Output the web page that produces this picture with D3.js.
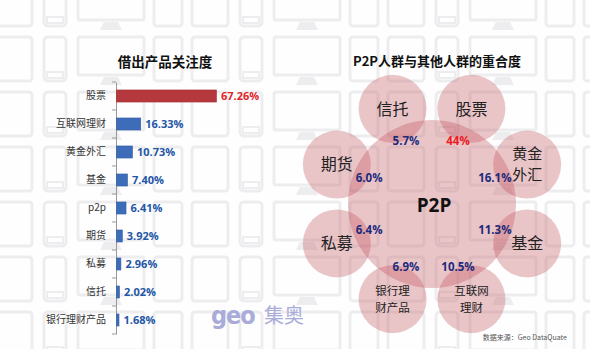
<!DOCTYPE html>
<html><head><meta charset="utf-8">
<script src="https://cdn.jsdelivr.net/npm/d3@7"></script>
<style>
html,body{margin:0;padding:0;background:#fff;}
svg{display:block;font-family:"Noto Sans CJK SC","Noto Sans",sans-serif;}
</style></head>
<body>
<svg id="c" width="590" height="349"></svg>
<script>
// ---- data ----
const barCategories = ["股票","互联网理财","黄金外汇","基金","p2p","期货","私募","信托","银行理财产品"];
const barValues = [67.26,16.33,10.73,7.40,6.41,3.92,2.96,2.02,1.68];
const barLabels = ["67.26%","16.33%","10.73%","7.40%","6.41%","3.92%","2.96%","2.02%","1.68%"];
const circleNames = ["信托","股票","黄金外汇","基金","互联网理财","银行理财产品","私募","期货"];
const circleLines = [["信托"],["股票"],["黄金","外汇"],["基金"],["互联网","理财"],["银行理","财产品"],["私募"],["期货"]];
const overlapValues = [5.7,44,16.1,11.3,10.5,6.9,6.4,6.0];
const overlapLabels = ["5.7%","44%","16.1%","11.3%","10.5%","6.9%","6.4%","6.0%"];
const leftTitle = "借出产品关注度";
const rightTitle = "P2P人群与其他人群的重合度";
const centerName = "P2P";
const sourceText = "数据来源：Geo  DataQuate";

const svg = d3.select("#c");

// ---- background pattern of device outlines ----
const defs = svg.append("defs");
const pat = defs.append("pattern").attr("id","bgp").attr("patternUnits","userSpaceOnUse")
  .attr("x",-8).attr("y",-22).attr("width",196).attr("height",55);
const bgc = "#ededf0";
const ps = pat.append("g").attr("fill","none").attr("stroke",bgc).attr("stroke-width",3);
ps.append("rect").attr("x",4).attr("y",4).attr("width",36).attr("height",44).attr("rx",3);
ps.append("rect").attr("x",52).attr("y",4).attr("width",22).attr("height",44).attr("rx",4);
ps.append("rect").attr("x",55).attr("y",39).attr("width",16).attr("height",6).attr("stroke-width",2);
ps.append("rect").attr("x",86).attr("y",4).attr("width",66).attr("height",38).attr("rx",2);
ps.append("path").attr("d","M112,44 L126,44 L130,52 L108,52 Z").attr("fill",bgc).attr("stroke","none");
ps.append("rect").attr("x",162).attr("y",4).attr("width",28).attr("height",44).attr("rx",3);
svg.append("rect").attr("width",590).attr("height",349).attr("fill","#fefefe");
svg.append("rect").attr("width",590).attr("height",349).attr("fill","url(#bgp)");

// ---- left: bar chart ----
const x = d3.scaleLinear().domain([0,70]).range([116,220]);
const y = d3.scaleBand().domain(barCategories).range([82,334]).paddingInner(0.57).paddingOuter(0.285);

svg.append("text").attr("x",165).attr("y",67).attr("text-anchor","middle")
  .attr("font-size",13.5).attr("font-weight","bold").attr("fill","#111").text(leftTitle);

const yAxis = svg.append("g").attr("transform","translate(116,0)")
  .call(d3.axisLeft(y).tickSize(0).tickPadding(10));
yAxis.select(".domain").attr("stroke","#999");
yAxis.selectAll("text").attr("font-size",10).attr("fill","#333")
  .attr("font-family",'"Noto Sans CJK SC","Noto Sans",sans-serif');
const step = y.step();
const bounds = barCategories.map(c => y(c) - (step - y.bandwidth())/2).concat([y(barCategories[barCategories.length-1]) + y.bandwidth() + (step - y.bandwidth())/2]);
svg.append("g").selectAll("line").data(bounds).join("line")
  .attr("x1",112).attr("x2",116).attr("y1",d=>d).attr("y2",d=>d).attr("stroke","#999");

svg.append("g").selectAll("rect").data(barCategories).join("rect")
  .attr("x",x(0)+0.5).attr("y",c=>y(c)).attr("height",y.bandwidth())
  .attr("width",(c,i)=>x(barValues[i])-x(0))
  .attr("fill",(c,i)=> i===0 ? "#b5383d" : "#3d6cb9")
  .attr("stroke",(c,i)=> i===0 ? "#a02f33" : "#335ea6").attr("stroke-width",0.6);

svg.append("g").selectAll("text").data(barCategories).join("text")
  .attr("x",(c,i)=>x(barValues[i])+5).attr("y",c=>y(c)+y.bandwidth()/2)
  .attr("dy","0.36em").attr("font-size",11).attr("font-weight","bold")
  .attr("font-family","'Open Sans','Noto Sans',sans-serif")
  .attr("fill",(c,i)=> i===0 ? "#e2242a" : "#2456a6")
  .text((c,i)=>barLabels[i]);

// ---- watermark ----
svg.append("text").attr("x",211).attr("y",324).attr("font-size",25).attr("font-weight","bold")
  .attr("font-family","'DejaVu Sans Condensed','DejaVu Sans',sans-serif")
  .attr("fill","#a9acd9").attr("letter-spacing",-1).text("geo");
svg.append("text").attr("x",264).attr("y",323).attr("font-size",20)
  .attr("fill","#a9acd9").text("集奥");

// ---- right: overlap circles ----
const cx = 432, cy = 204, R = 103, rOuter = 34, rCenter = 84, rLabel = 68;
const ang = d3.scaleLinear().domain([0, circleNames.length]).range([-112.5, 247.5]);
const pos = (i, rad) => {
  const a = ang(i) * Math.PI / 180;
  return [cx + rad*Math.cos(a), cy + rad*Math.sin(a)];
};

svg.append("text").attr("x",437).attr("y",66).attr("text-anchor","middle")
  .attr("font-size",13).attr("font-weight","bold").attr("fill","#111").text(rightTitle);

const circG = svg.append("g").attr("fill","#c04852").attr("fill-opacity",0.31);
circG.append("circle").attr("cx",cx).attr("cy",cy).attr("r",rCenter);
circG.selectAll("circle.o").data(circleNames).join("circle").attr("class","o")
  .attr("cx",(d,i)=>pos(i,R)[0]).attr("cy",(d,i)=>pos(i,R)[1]).attr("r",rOuter);

svg.append("text").attr("x",cx+2).attr("y",cy+1).attr("dy","0.36em").attr("text-anchor","middle")
  .attr("font-size",19).attr("font-weight","bold")
  .attr("font-family","'Open Sans','Noto Sans',sans-serif").attr("fill","#111").text(centerName);

// circle names, one text element per line
const nameRows = [];
circleLines.forEach((lines,i)=>{
  const [px,py] = pos(i,R);
  const small = lines.length>1 && lines[0].length>2;
  const fs = lines.length>1 ? (small ? 11.5 : 15) : 16;
  const lh = lines.length>1 ? (small ? 17 : 21) : 0;
  lines.forEach((l,k)=> nameRows.push({t:l, x:px, y:py + (k-(lines.length-1)/2)*lh, fs}));
});
svg.append("g").selectAll("text").data(nameRows).join("text")
  .attr("x",d=>d.x).attr("y",d=>d.y).attr("dy","0.36em").attr("text-anchor","middle")
  .attr("font-size",d=>d.fs).attr("fill","#222").text(d=>d.t);

svg.append("g").selectAll("text").data(overlapValues).join("text")
  .attr("x",(d,i)=>pos(i,rLabel)[0]).attr("y",(d,i)=>pos(i,rLabel)[1])
  .attr("dy","0.36em").attr("text-anchor","middle")
  .attr("font-size",11.5).attr("font-weight","bold")
  .attr("font-family","'Open Sans','Noto Sans',sans-serif")
  .attr("fill",(d,i)=> d===44 ? "#ee1c25" : "#1c2a7c")
  .text((d,i)=>overlapLabels[i]);

svg.append("text").attr("x",567).attr("y",340).attr("text-anchor","end")
  .attr("font-size",7).attr("fill","#555").text(sourceText);
</script>
</body></html>
